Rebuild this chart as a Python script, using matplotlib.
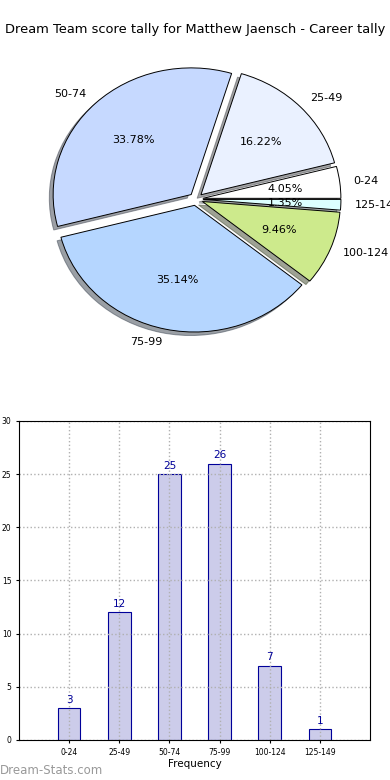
import matplotlib
matplotlib.use('Agg')
import matplotlib.pyplot as plt
import numpy as np

# Data
categories = ['0-24', '25-49', '50-74', '75-99', '100-124', '125-149']
counts = [3, 12, 25, 26, 7, 1]
pie_colors = ['#ffffff', '#eaf1ff', '#c6d9ff', '#b5d6ff', '#cdea8c', '#dcffff']
title = 'Dream Team score tally for Matthew Jaensch - Career tally'

fig = plt.figure(figsize=(3.9, 7.8), dpi=100)

# Pie chart
ax1 = fig.add_axes([0.060, 0.5417, 0.885, 0.406])
wedges, texts, autotexts = ax1.pie(
    counts, labels=categories, colors=pie_colors, autopct='%1.2f%%',
    explode=[0.05] * len(counts), shadow=True,
    wedgeprops=dict(edgecolor='black', linewidth=0.7),
    textprops=dict(fontsize=8))
ax1.set_aspect('auto')
ax1.set_xlim(-1.25, 1.25)
ax1.set_ylim(-1.25, 1.25)
ax1.axis('off')

fig.text(0.5, 1 - 30 / 780, title, ha='center', va='center', fontsize=9.4)

# Bar chart
ax2 = fig.add_axes([0.0487, 0.0513, 0.9, 0.409])
x = np.arange(len(categories))
bars = ax2.bar(x, counts, width=0.45, color='#ccccea', edgecolor='#000099', linewidth=0.8)
for xi, c in zip(x, counts):
    ax2.text(xi, c + 0.3, str(c), ha='center', va='bottom', color='#000099', fontsize=7.5)
ax2.set_xlim(-1, 6)
ax2.set_ylim(0, 30)
ax2.set_xticks(x)
ax2.set_xticklabels(categories, fontsize=5.5)
ax2.set_yticks(range(0, 31, 5))
ax2.tick_params(axis='y', labelsize=5.5, length=2)
ax2.tick_params(axis='x', length=2)
ax2.grid(True, linestyle=':', color='#b0b0b0', linewidth=1)
ax2.set_axisbelow(False)
for s in ax2.spines.values():
    s.set_zorder(5)
ax2.set_xlabel('Frequency', fontsize=7.5, labelpad=2)
ax2.set_ylabel('Score Tally', fontsize=7.5, labelpad=6)

fig.text(0.0, 1 - 770 / 780, 'Dream-Stats.com', ha='left', va='center',
         fontsize=8.5, color='#999999')

plt.savefig('out.png', dpi=100)
